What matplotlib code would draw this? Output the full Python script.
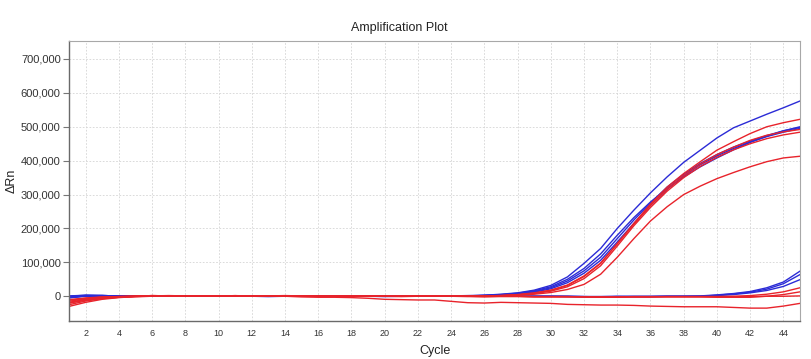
import matplotlib
matplotlib.use("Agg")
import matplotlib.pyplot as plt
from matplotlib.ticker import FuncFormatter

plt.rcParams['font.family'] = ['Liberation Sans', 'DejaVu Sans']

cycles = list(range(1, 46))

# Delta Rn values in thousands, cycles 1..45
blue_B1 = [-3, 1, 2, 1, 0, 1, 1, 0, 0, 1, 0, 0, 0, 1, 0, 0, 0, 0, 0, 0, 0, 0, 1, 1, 2,
           3, 6, 10, 18, 32, 57, 97, 141, 200, 254, 305, 352, 395, 431, 467, 497, 517, 537, 556, 576]
blue_B2 = [-1, 2, 2, 1, 0, 0, 1, 1, 0, 0, 1, 0, -1, 0, 0, 0, 0, 0, 0, 0, 0, 0, 0, 1, 1,
           2, 4, 8, 14, 25, 45, 75, 115, 170, 225, 275, 322, 360, 392, 418, 440, 458, 474, 488, 500]
blue_B3 = [-5, 0, 1, 1, 0, 1, 0, 0, 1, 0, 0, 1, 0, 0, 0, 0, 0, 0, 0, -1, 0, 0, 0, 0, 1,
           2, 3, 6, 12, 22, 40, 68, 106, 160, 215, 268, 315, 355, 388, 414, 436, 455, 471, 484, 495]
blue_B4 = [0, 3, 2, 1, 1, 0, 0, 1, 0, 0, 0, 0, 0, 0, 0, 1, 0, 0, 0, 0, 0, 0, 0, 1, 1,
           3, 5, 9, 16, 28, 50, 82, 125, 180, 232, 278, 318, 352, 382, 408, 432, 454, 472, 488, 498]
blue_L1 = [-2, 2, 2, 1, 0, 0, 1, 0, 0, 0, 0, 1, 0, 0, 0, 0, 0, 0, 0, 0, 0, 0, 0, 0, 0,
           0, 0, 0, 0, 0, 0, -1, -1, 0, -1, -1, 0, 0, 1, 4, 8, 14, 25, 42, 74]
blue_L2 = [1, 3, 2, 1, 0, 0, 0, 0, 1, 0, 0, 0, 0, 0, 0, 0, 0, 0, 0, 0, 0, 0, 0, 0, 0,
           0, 0, 0, 0, 0, -1, -1, -1, -1, 0, 0, 0, 0, 0, 3, 7, 12, 21, 37, 64]
blue_L3 = [-4, 1, 1, 1, 0, 0, 0, 0, 0, 0, 0, 0, 0, 0, 0, 0, 0, 0, 0, 0, 0, 0, 0, 0, 0,
           0, 0, 0, 0, 0, 0, -1, -2, -1, -1, -1, 0, 0, 0, 2, 5, 10, 17, 29, 49]

red_R1 = [-15, -7, -3, -1, 0, 2, 1, 0, 1, 0, 1, 0, 1, 1, 0, 0, 0, 0, 0, 0, -1, 0, 1, 0, 0,
          1, 2, 5, 10, 18, 33, 60, 98, 155, 215, 272, 322, 362, 397, 431, 456, 480, 500, 512, 522]
red_R2 = [-20, -10, -5, -2, 0, 1, 0, 1, 0, 0, 1, 0, 0, 1, 0, 0, 0, 0, 0, 0, 0, 1, 0, 0, 0,
          0, 2, 4, 8, 15, 28, 52, 90, 148, 208, 262, 310, 350, 383, 410, 432, 450, 465, 476, 484]
red_R3 = [-25, -14, -7, -3, -1, 1, 1, 0, 0, 1, 0, 0, 1, 0, 0, 0, 0, 0, 0, 0, 0, 0, 0, 0, 0,
          1, 2, 4, 9, 17, 32, 58, 97, 155, 213, 268, 316, 356, 390, 418, 440, 460, 475, 485, 492]
red_R4 = [-30, -18, -9, -4, -1, 0, 1, 1, 0, 0, 0, 1, 0, 0, 1, 0, 0, 0, 0, 0, 0, 0, 0, 0, 0,
          0, 1, 3, 6, 11, 20, 35, 65, 115, 170, 222, 264, 300, 325, 347, 365, 382, 397, 408, 413]
red_L1 = [-12, -6, -3, -1, 0, 2, 1, 0, 1, 0, 2, 0, 1, 2, 1, 0, 0, 0, 0, 0, 0, 0, 1, 0, -1,
          -1, 0, 0, -1, -1, -1, -2, -2, -2, -2, -2, -1, -1, -1, -1, 0, 2, 6, 13, 25]
red_L2 = [-18, -9, -4, -2, 0, 1, 1, 1, 0, 1, 1, 0, 0, 1, 0, 0, 0, 0, 0, 0, 0, 1, 1, 0, 0,
          -1, -1, -1, -2, -2, -2, -2, -3, -3, -2, -2, -2, -2, -2, -3, -3, -3, 0, 5, 13]
red_F1 = [-10, -5, -2, -1, 0, 1, 2, 1, 0, 1, 1, 0, 1, 1, 0, 0, 0, 0, 0, 0, 0, 0, 1, 0, 0,
          -1, 0, 0, -1, -1, -1, -2, -2, -2, -1, -1, -1, -1, -1, -1, -1, -1, 0, 0, 1]
red_N1 = [-20, -12, -6, -3, -1, 0, 1, 0, 0, 0, 0, 0, 0, 0, -2, -3, -3, -4, -6, -9,
          -10, -11, -11, -15, -19, -20, -18, -19, -20, -21, -24, -25, -26, -26, -27, -29, -30, -31, -31, -31,
          -33, -35, -35, -29, -21]

blue_series = [blue_B1, blue_B2, blue_B3, blue_B4, blue_L1, blue_L2, blue_L3]
red_series = [red_R1, red_R2, red_R3, red_R4, red_L1, red_L2, red_F1, red_N1]

x_ticks = list(range(2, 46, 2))
y_ticks = list(range(0, 700001, 100000))

W, H = 811, 359
fig = plt.figure(figsize=(W / 100, H / 100), dpi=100)
ax = fig.add_axes([69 / W, 1 - 321 / H, (800 - 69) / W, (321 - 41) / H])

blue = '#2b2bd6'
red = '#e8232b'
for s in blue_series:
    ax.plot(cycles, [v * 1000 for v in s], color=blue, lw=1.0)
for s in red_series:
    ax.plot(cycles, [v * 1000 for v in s], color=red, lw=1.0)

ax.set_xlim(1, 45)
ax.set_ylim(-73000, 753000)
ax.set_xticks(x_ticks)
ax.set_yticks(y_ticks)
ax.yaxis.set_major_formatter(FuncFormatter(lambda v, p: f"{int(v):,}"))
ax.grid(True, color='#d4d4d4', linestyle=(0, (2, 2)), lw=0.6)
ax.set_axisbelow(True)

ax.tick_params(axis='x', length=0, labelsize=6.5, colors='#333333', pad=6)
ax.tick_params(axis='y', length=4, width=0.8, labelsize=8, colors='#333333', pad=2)
ax.tick_params(axis='y', color='#777777')

for side in ['left', 'bottom']:
    ax.spines[side].set_color('#6a6a6a')
    ax.spines[side].set_linewidth(1.0)
for side in ['top', 'right']:
    ax.spines[side].set_color('#a8a8a8')
    ax.spines[side].set_linewidth(0.8)

ax.set_xlabel('Cycle', fontsize=9, color='#222222', labelpad=5)
fig.text(12 / W, 1 - 181 / H, 'ΔRn', rotation=90, ha='center', va='center',
         fontsize=9, color='#222222')
fig.text(399 / W, 1 - 28 / H, 'Amplification Plot', ha='center', va='center',
         fontsize=9, color='#222222')

fig.savefig('out.png', dpi=100)
